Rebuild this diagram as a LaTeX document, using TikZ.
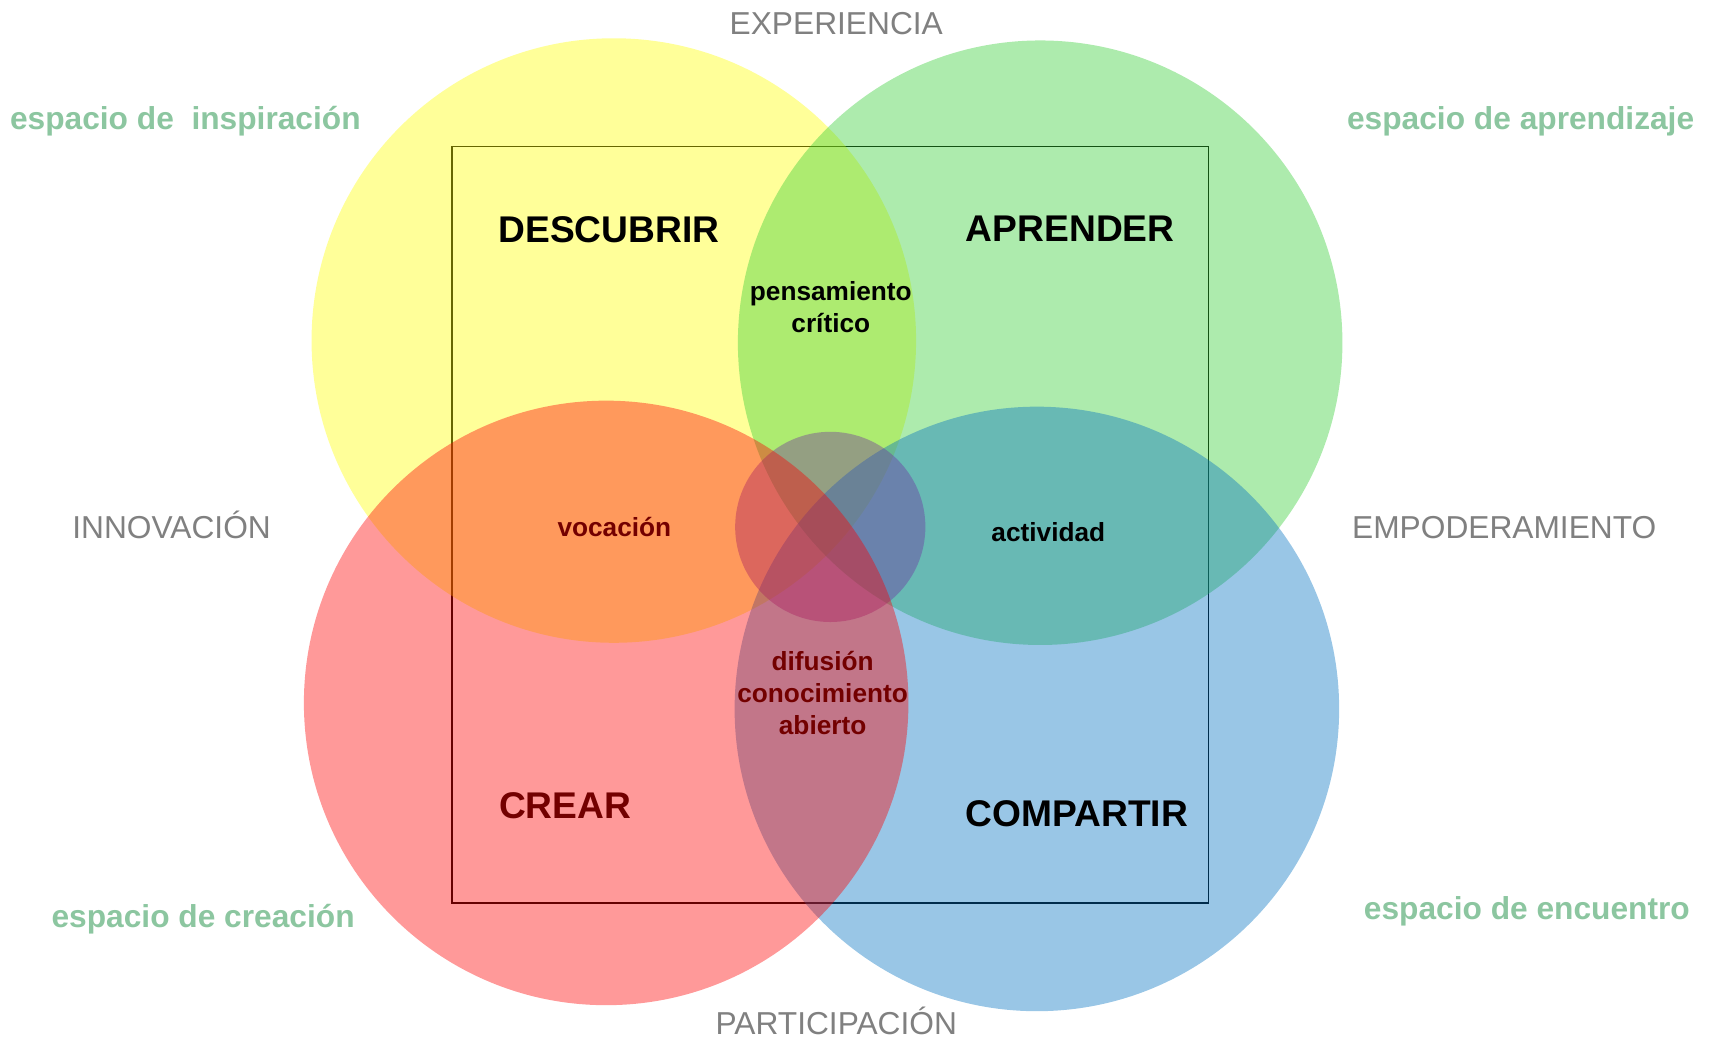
\documentclass[tikz,border=0pt]{standalone}
\usepackage{fontspec}
\setmainfont{Liberation Sans}
\definecolor{cYellow}{RGB}{255,255,0}
\definecolor{cGreen}{RGB}{50,205,50}
\definecolor{cBlue}{RGB}{0,112,192}
\definecolor{cPurple}{RGB}{112,48,160}
\definecolor{cRed}{RGB}{255,0,0}
\definecolor{cGray}{RGB}{128,128,128}
\definecolor{cSpace}{RGB}{140,198,160}
\definecolor{cDark}{RGB}{115,0,0}
\tikzset{
  disc/.style={circle, inner sep=0pt, draw=none, fill opacity=0.4},
  axislabel/.style={text=cGray, font=\fontsize{29}{34}\selectfont, inner sep=0pt, anchor=base},
  spacelabel/.style={text=cSpace, font=\fontsize{29}{34}\selectfont\bfseries, inner sep=0pt, anchor=base},
  biglabel/.style={font=\fontsize{34}{40}\selectfont\bfseries, inner sep=0pt, anchor=base},
  smalllabel/.style={font=\fontsize{24}{29.5}\selectfont\bfseries, inner sep=0pt, align=center}
}
\begin{document}
\begin{tikzpicture}[x=1pt,y=-1pt]
\useasboundingbox (0,0) rectangle (1567,951.4);
% frame (under the discs)
\node (frame) [draw=black, line width=1.8pt, minimum width=692pt, minimum height=692pt, inner sep=0pt] at (759.5,480) {};
% discs
\node (yellow) [disc, fill=cYellow, minimum size=553pt] at (561.5,311.5) {};
\node (green) [disc, fill=cGreen, minimum size=553pt] at (951.5,313.5) {};
\node (blue) [disc, fill=cBlue, minimum size=553pt] at (948.5,648.5) {};
\node (center) [disc, fill=cPurple, minimum size=174pt] at (759.5,482) {};
\node (red) [disc, fill=cRed, minimum size=553pt] at (554.5,643) {};
% axis labels
\node (exp) [axislabel] at (765,32) {EXPERIENCIA};
\node (inn) [axislabel] at (157,492.5) {INNOVACIÓN};
\node (emp) [axislabel] at (1376,492.5) {EMPODERAMIENTO};
\node (par) [axislabel] at (765,946.5) {PARTICIPACIÓN};
% space labels
\node (sinsp) [spacelabel, anchor=base west] at (9,118.4) {espacio de \ inspiración};
\node (sapr) [spacelabel, anchor=base east] at (1550,118.4) {espacio de aprendizaje};
\node (screa) [spacelabel, anchor=base west] at (47,848) {espacio de creación};
\node (senc) [spacelabel, anchor=base east] at (1546,841) {espacio de encuentro};
% big labels
\node (desc) [biglabel] at (557,222) {DESCUBRIR};
\node (apr) [biglabel] at (979,221) {APRENDER};
\node (crear) [biglabel, text=cDark] at (517,749) {CREAR};
\node (comp) [biglabel] at (985,756) {COMPARTIR};
% intersection labels
\node (pens) [smalllabel] at (760,281) {pensamiento\\crítico};
\node (voc) [smalllabel, text=cDark, anchor=base] at (562,491) {vocación};
\node (act) [smalllabel, anchor=base] at (959,495) {actividad};
\node (dif) [smalllabel, text=cDark] at (752.5,634) {difusión\\conocimiento\\abierto};
\end{tikzpicture}
\end{document}
